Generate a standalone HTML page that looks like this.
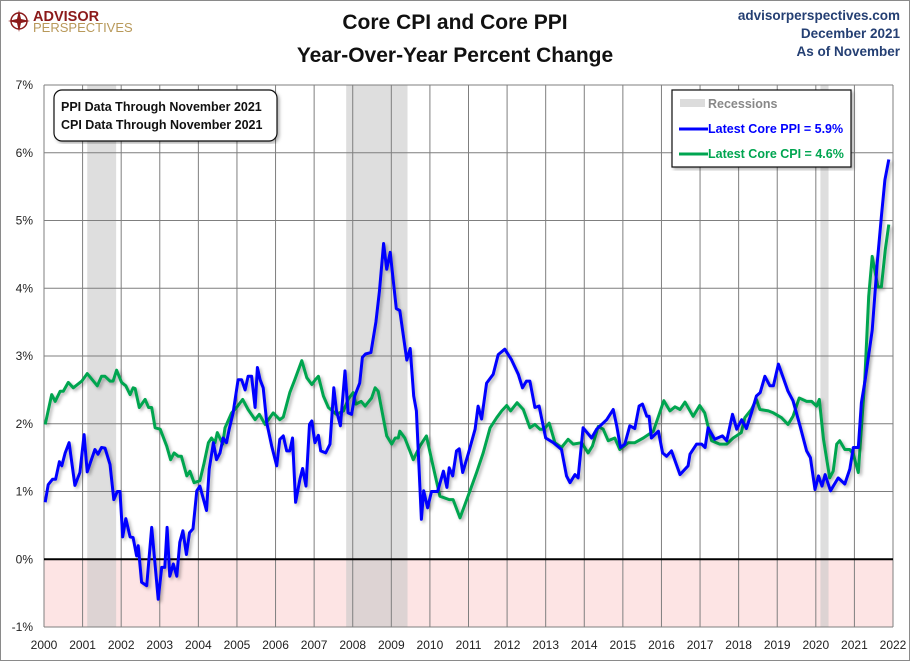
<!DOCTYPE html>
<html><head><meta charset="utf-8">
<style>
html,body{margin:0;padding:0;background:#fff;}
body{width:910px;height:661px;overflow:hidden;font-family:"Liberation Sans",sans-serif;}
svg text{font-family:"Liberation Sans",sans-serif;}
</style></head>
<body>
<svg id="chart" width="910" height="661" xmlns="http://www.w3.org/2000/svg">
<defs>
<filter id="sh" x="-5%" y="-5%" width="110%" height="110%"><feDropShadow dx="2" dy="2" stdDeviation="1.5" flood-color="#000" flood-opacity="0.3"/></filter>
</defs>
<rect x="0.5" y="0.5" width="909" height="660" fill="#fff" stroke="#8a8a8a"/>
<g id="logo">
<circle cx="19" cy="21" r="8" fill="none" stroke="#8b1a1a" stroke-width="1.5"/>
<polygon points="19,10 21,19 30,21 21,23 19,32 17,23 8,21 17,19" fill="#8b1a1a"/>
<text x="33" y="21" font-size="14.5" font-weight="bold" fill="#8b1a1a">ADVISOR</text>
<text x="33" y="32" font-size="13" fill="#b8995a">PERSPECTIVES</text>
</g>
<text x="455" y="29" font-size="21" font-weight="bold" text-anchor="middle" fill="#111">Core CPI and Core PPI</text>
<text x="455" y="62" font-size="21" font-weight="bold" text-anchor="middle" fill="#111">Year-Over-Year Percent Change</text>
<g fill="#243f73" font-size="13.5" font-weight="bold" text-anchor="end">
<text x="900" y="20">advisorperspectives.com</text>
<text x="900" y="38">December 2021</text>
<text x="900" y="56">As of November</text>
</g>
<g id="plot"></g>
<g>
<rect x="54" y="90" width="223" height="51" rx="8" fill="#fff" stroke="#111" stroke-width="1.2" filter="url(#sh)"/>
<text x="61" y="111" font-size="12.5" font-weight="bold" fill="#111">PPI Data Through November 2021</text>
<text x="61" y="129" font-size="12.5" font-weight="bold" fill="#111">CPI Data Through November 2021</text>
</g>
<g>
<rect x="672" y="90" width="179" height="77" fill="#fff" stroke="#111" stroke-width="1.2" filter="url(#sh)"/>
<rect x="680" y="99" width="25" height="8" fill="#dcdcdc"/>
<text x="708" y="108" font-size="12.5" font-weight="bold" fill="#888">Recessions</text>
<line x1="679" y1="129" x2="708" y2="129" stroke="#0000ff" stroke-width="3"/>
<text x="708" y="133" font-size="12.5" font-weight="bold" fill="#0000ff">Latest Core PPI = 5.9%</text>
<line x1="679" y1="154" x2="708" y2="154" stroke="#00a550" stroke-width="3"/>
<text x="708" y="158" font-size="12.5" font-weight="bold" fill="#00a550">Latest Core CPI = 4.6%</text>
</g>
</svg>
<script>
const yTicks=[-1,0,1,2,3,4,5,6,7];
const xTicks=[2000,2001,2002,2003,2004,2005,2006,2007,2008,2009,2010,2011,2012,2013,2014,2015,2016,2017,2018,2019,2020,2021,2022];
const recessionStarts=[2001.12,2007.83,2020.12];
const recessionEnds=[2001.87,2009.42,2020.33];
const ppiDates=[2000.03,2000.11,2000.22,2000.3,2000.4,2000.46,2000.55,2000.65,2000.8,2000.93,2001.04,2001.12,2001.32,2001.4,2001.49,2001.58,2001.71,2001.81,2001.9,2001.97,2002.04,2002.12,2002.23,2002.31,2002.4,2002.44,2002.53,2002.66,2002.79,2002.96,2003.05,2003.13,2003.19,2003.26,2003.35,2003.44,2003.52,2003.6,2003.69,2003.77,2003.86,2003.96,2004.04,2004.21,2004.28,2004.39,2004.47,2004.56,2004.64,2004.73,2004.8,2004.9,2005.03,2005.12,2005.21,2005.29,2005.38,2005.47,2005.53,2005.6,2005.68,2005.77,2005.9,2006.03,2006.11,2006.2,2006.29,2006.37,2006.44,2006.52,2006.63,2006.7,2006.79,2006.88,2006.94,2007.02,2007.11,2007.17,2007.3,2007.41,2007.51,2007.58,2007.68,2007.8,2007.88,2007.97,2008.05,2008.18,2008.25,2008.33,2008.47,2008.6,2008.69,2008.8,2008.88,2008.97,2009.13,2009.22,2009.4,2009.49,2009.58,2009.65,2009.78,2009.84,2009.94,2010.04,2010.2,2010.35,2010.44,2010.5,2010.59,2010.69,2010.76,2010.85,2011.0,2011.17,2011.25,2011.34,2011.47,2011.64,2011.77,2011.94,2012.11,2012.29,2012.4,2012.5,2012.59,2012.72,2012.83,2013.0,2013.2,2013.41,2013.54,2013.63,2013.76,2013.84,2013.97,2014.19,2014.32,2014.58,2014.75,2014.84,2014.94,2015.05,2015.18,2015.31,2015.42,2015.51,2015.62,2015.68,2015.74,2015.92,2016.03,2016.13,2016.26,2016.48,2016.69,2016.74,2016.91,2017.04,2017.13,2017.21,2017.38,2017.58,2017.69,2017.84,2017.95,2018.08,2018.2,2018.33,2018.46,2018.56,2018.68,2018.81,2018.9,2019.03,2019.28,2019.41,2019.59,2019.76,2019.86,2019.98,2020.07,2020.16,2020.24,2020.38,2020.58,2020.75,2020.88,2020.97,2021.1,2021.18,2021.28,2021.46,2021.59,2021.7,2021.79,2021.89];
const ppiValues=[0.84,1.1,1.18,1.18,1.44,1.38,1.57,1.72,1.09,1.28,1.84,1.29,1.62,1.55,1.65,1.64,1.4,0.88,1.0,1.0,0.33,0.6,0.33,0.32,0.05,0.2,-0.34,-0.39,0.47,-0.59,-0.12,-0.12,0.47,-0.25,-0.07,-0.25,0.25,0.42,0.07,0.39,0.45,1.01,1.08,0.72,1.33,1.72,1.47,1.57,1.79,1.72,1.92,2.16,2.65,2.65,2.5,2.7,2.7,2.24,2.83,2.65,2.53,2.02,1.67,1.38,1.77,1.82,1.6,1.6,1.79,0.84,1.18,1.34,1.08,1.99,2.04,1.72,1.83,1.6,1.57,1.7,2.53,2.19,1.97,2.78,2.16,2.14,2.41,2.6,2.98,3.03,3.05,3.5,3.95,4.66,4.28,4.53,3.7,3.67,2.94,3.11,2.41,2.19,0.59,1.01,0.76,1.0,1.0,1.3,1.06,1.35,1.23,1.6,1.63,1.28,1.57,1.92,2.26,2.07,2.6,2.73,3.02,3.1,2.95,2.73,2.53,2.63,2.63,2.24,2.26,1.79,1.72,1.62,1.23,1.13,1.25,1.2,1.94,1.79,1.92,2.06,2.21,1.97,1.65,1.7,1.97,1.93,2.26,2.29,2.11,2.11,1.79,1.89,1.57,1.52,1.6,1.25,1.38,1.55,1.7,1.7,1.65,1.94,1.77,1.82,1.75,2.14,1.92,2.06,1.93,2.16,2.41,2.46,2.7,2.56,2.56,2.88,2.48,2.34,1.97,1.6,1.5,1.03,1.23,1.08,1.25,1.01,1.2,1.11,1.33,1.65,1.65,2.31,2.65,3.38,4.37,5.06,5.6,5.9];
const cpiDates=[2000.03,2000.2,2000.29,2000.42,2000.5,2000.63,2000.76,2000.98,2001.12,2001.38,2001.49,2001.58,2001.71,2001.79,2001.88,2002.01,2002.12,2002.23,2002.31,2002.36,2002.47,2002.62,2002.71,2002.79,2002.88,2003.01,2003.18,2003.28,2003.37,2003.48,2003.56,2003.7,2003.78,2003.89,2004.04,2004.14,2004.26,2004.34,2004.43,2004.49,2004.63,2004.69,2004.86,2004.99,2005.15,2005.29,2005.47,2005.58,2005.73,2005.94,2006.11,2006.2,2006.37,2006.5,2006.68,2006.81,2006.94,2007.03,2007.11,2007.24,2007.37,2007.58,2007.76,2007.88,2008.01,2008.08,2008.22,2008.32,2008.49,2008.58,2008.66,2008.88,2009.01,2009.1,2009.18,2009.22,2009.35,2009.57,2009.74,2009.91,2010.08,2010.26,2010.5,2010.6,2010.78,2010.91,2011.04,2011.21,2011.38,2011.56,2011.73,2011.86,2011.99,2012.09,2012.26,2012.42,2012.59,2012.72,2012.85,2012.96,2013.09,2013.24,2013.41,2013.58,2013.71,2013.93,2014.1,2014.21,2014.36,2014.49,2014.62,2014.79,2014.92,2015.14,2015.31,2015.53,2015.79,2016.06,2016.22,2016.35,2016.48,2016.61,2016.82,2016.99,2017.12,2017.3,2017.51,2017.69,2017.86,2018.07,2018.16,2018.33,2018.46,2018.55,2018.77,2018.9,2019.11,2019.28,2019.41,2019.57,2019.76,2019.89,2020.02,2020.09,2020.2,2020.36,2020.45,2020.54,2020.62,2020.75,2020.88,2020.97,2021.1,2021.27,2021.37,2021.46,2021.61,2021.7,2021.8,2021.89];
const cpiValues=[1.99,2.43,2.33,2.48,2.48,2.61,2.53,2.63,2.74,2.56,2.7,2.7,2.63,2.63,2.79,2.61,2.56,2.43,2.53,2.52,2.24,2.36,2.24,2.24,1.94,1.92,1.67,1.47,1.57,1.52,1.52,1.23,1.3,1.13,1.16,1.4,1.72,1.79,1.72,1.87,1.7,1.94,2.16,2.24,2.36,2.21,2.06,2.14,1.99,2.16,2.06,2.1,2.46,2.65,2.93,2.68,2.58,2.65,2.7,2.41,2.24,2.14,2.19,2.36,2.46,2.29,2.33,2.26,2.38,2.53,2.48,1.82,1.7,1.79,1.79,1.89,1.79,1.47,1.67,1.82,1.38,0.93,0.88,0.88,0.61,0.81,1.01,1.28,1.57,1.94,2.09,2.19,2.27,2.19,2.31,2.21,1.94,1.99,1.92,1.92,2.01,1.72,1.65,1.77,1.7,1.72,1.57,1.67,1.96,1.92,1.75,1.79,1.62,1.72,1.72,1.79,1.89,2.34,2.19,2.25,2.21,2.32,2.11,2.27,2.16,1.75,1.7,1.7,1.79,1.87,2.09,2.21,2.36,2.21,2.19,2.16,2.09,1.99,2.11,2.38,2.33,2.33,2.26,2.36,1.77,1.2,1.3,1.7,1.75,1.62,1.62,1.55,1.28,2.65,3.88,4.47,4.02,4.02,4.57,4.94];

const NS='http://www.w3.org/2000/svg';
const L=44,R=893,T=85,B=627,Y0=-1,Y1=7,X0=2000,X1=2022;
function xs(v){return L+(v-X0)/(X1-X0)*(R-L);}
function ys(v){return B-(v-Y0)/(Y1-Y0)*(B-T);}
const plot=document.getElementById('plot');
function mk(tag,attrs){const e=document.createElementNS(NS,tag);for(const k in attrs)e.setAttribute(k,attrs[k]);return e;}

const neg=mk('rect',{x:L,y:ys(0),width:R-L,height:B-ys(0),fill:'#fde4e4'});


plot.appendChild(neg);

for(let i=0;i<recessionStarts.length;i++){
  const r=mk('rect',{x:xs(recessionStarts[i]),y:T,width:xs(recessionEnds[i])-xs(recessionStarts[i]),height:B-T,fill:'#c8c8c8','fill-opacity':'0.6'});
  
  
  plot.appendChild(r);
}
yTicks.forEach(t=>{
  const g=mk('line',{x1:L,x2:R,y1:ys(t),y2:ys(t),stroke:'#7f7f7f','stroke-width':1});
  
  
  plot.appendChild(g);
  const tx=mk('text',{x:33,y:ys(t)+4,'font-size':12,'text-anchor':'end',fill:'#222'});
  tx.textContent=t+'%';
  
  
  plot.appendChild(tx);
});
xTicks.forEach(t=>{
  const g=mk('line',{x1:xs(t),x2:xs(t),y1:T,y2:B,stroke:'#7f7f7f','stroke-width':1});
  
  
  plot.appendChild(g);
  const tx=mk('text',{x:xs(t),y:649,'font-size':12,'text-anchor':'middle',fill:'#222'});
  tx.textContent=t;
  
  
  plot.appendChild(tx);
});
const zl=mk('line',{x1:L,x2:R,y1:ys(0),y2:ys(0),stroke:'#000','stroke-width':2});


plot.appendChild(zl);

function series(d,v,color,name){
  const pts=d.map((x,i)=>xs(x).toFixed(1)+','+ys(v[i]).toFixed(1)).join(' ');
  const p=mk('polyline',{points:pts,fill:'none',stroke:color,'stroke-width':3,'stroke-linejoin':'round',filter:'url(#sh)'});
  
  
  plot.appendChild(p);
}
series(cpiDates,cpiValues,'#00a550','core-cpi-line');
series(ppiDates,ppiValues,'#0000ff','core-ppi-line');
</script>
</body></html>
